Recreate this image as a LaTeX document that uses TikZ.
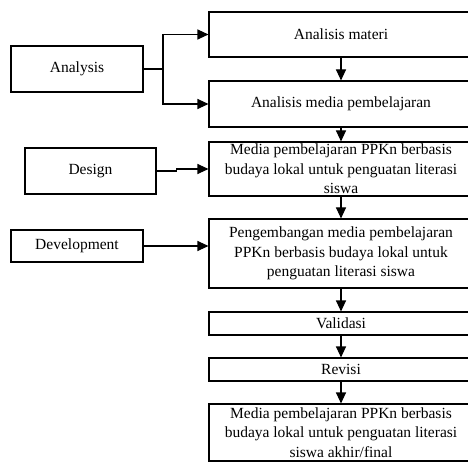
\documentclass[tikz,border=0pt]{standalone}
\usepackage{fontspec}
\setmainfont{Liberation Serif}
\usetikzlibrary{arrows.meta}

\tikzset{
    box/.style={draw, line width=1.1pt, align=center, inner sep=1pt,
        font=\fontsize{15.5}{19.5}\selectfont},
    leftbox/.style={box, minimum width=132pt},
    rightbox/.style={box, minimum width=264pt},
    flow/.style={-{Triangle[length=11pt,width=10pt]}, line width=1.1pt}
}

\begin{document}
\begin{tikzpicture}[x=1pt, y=-1pt]
    \clip (0, 0) rectangle (468, 462);

    % Phases on the left
    \node [leftbox, minimum height=46pt] (analysis) at (77, 69) {Analysis};
    \node [leftbox, minimum width=131pt, minimum height=46pt] (design) at (90.5, 171) {Design};
    \node [leftbox, minimum height=32pt] (development) at (77, 246) {Development};

    % Steps on the right
    \node [rightbox, minimum height=45pt] (materi) at (341, 34.5) {Analisis materi};
    \node [rightbox, minimum height=46pt] (mediaan) at (341, 104) {Analisis media pembelajaran};
    \node [rightbox, minimum height=54pt] (produk) at (341, 169)
        {Media pembelajaran PPKn berbasis\\budaya lokal untuk penguatan literasi\\siswa};
    \node [rightbox, minimum height=69pt] (kembang) at (341, 253.5)
        {Pengembangan media pembelajaran\\PPKn berbasis budaya lokal untuk\\penguatan literasi siswa};
    \node [rightbox, minimum height=23pt] (validasi) at (341, 323.5) {Validasi};
    \node [rightbox, minimum height=23pt] (revisi) at (341, 369.5) {Revisi};
    \node [rightbox, minimum height=57pt] (final) at (341, 432.5)
        {Media pembelajaran PPKn berbasis\\budaya lokal untuk penguatan literasi\\siswa akhir/final};

    % Connectors from the phases
    \coordinate (split) at (163, 69);
    \draw [line width=1.1pt] (analysis.east) -- (split);
    \draw [flow] (split) |- (materi.west);
    \draw [flow] (split) |- (mediaan.west);
    \draw [flow] (design.east) -- ++(20, 0) |- (produk.west);
    \draw [flow] (development.east) -- (development.east -| kembang.west);

    % Flow down the steps
    \draw [flow] (materi) -- (mediaan);
    \draw [flow] (mediaan) -- (produk);
    \draw [flow] (produk) -- (kembang);
    \draw [flow] (kembang) -- (validasi);
    \draw [flow] (validasi) -- (revisi);
    \draw [flow] (revisi) -- (final);

\end{tikzpicture}
\end{document}
